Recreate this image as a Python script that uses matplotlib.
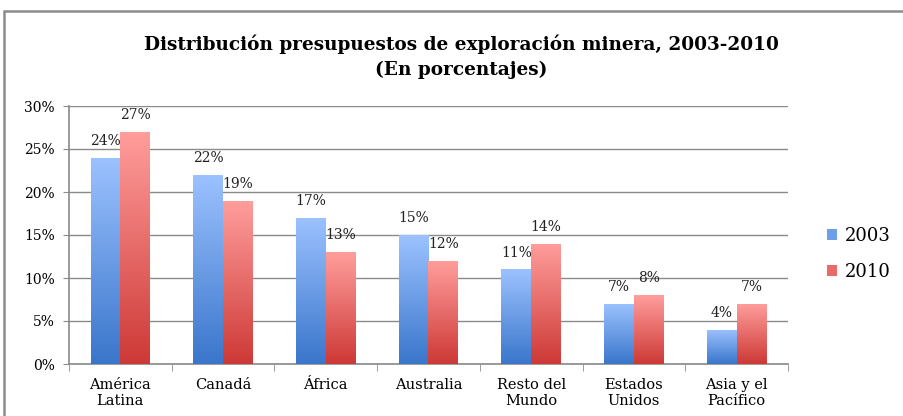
import numpy as np
import matplotlib
matplotlib.use("Agg")
import matplotlib.pyplot as plt
from matplotlib.patches import Rectangle, Patch
from matplotlib.colors import LinearSegmentedColormap

plt.rcParams["font.family"] = ["DejaVu Serif"]

# data
categories = ["América\nLatina", "Canadá", "África", "Australia",
              "Resto del\nMundo", "Estados\nUnidos", "Asia y el\nPacífico"]
pct_2003 = [24, 22, 17, 15, 11, 7, 4]
pct_2010 = [27, 19, 13, 12, 14, 8, 7]
series_labels = ["2003", "2010"]
y_ticks = [0, 5, 10, 15, 20, 25, 30]

# gradients: light at top, dark at bottom
blue_cmap = LinearSegmentedColormap.from_list("b", ["#3a76cb", "#9cc2ff"])
red_cmap = LinearSegmentedColormap.from_list("r", ["#cd3936", "#ff9e9c"])

fig = plt.figure(figsize=(9.04, 4.16), dpi=100)
ax = fig.add_axes([69 / 904, 1 - 364 / 416, (788 - 69) / 904, (364 - 106) / 416])

# outer frame of the chart
fig.patches.append(Rectangle((4 / 904, -0.05), 1.0, 1 - 11 / 416 + 0.05,
                             transform=fig.transFigure, fill=False,
                             edgecolor="#8c8c8c", linewidth=1.8))

x = np.arange(len(categories))
w = 0.29
grad = np.linspace(0, 1, 256).reshape(-1, 1)

for vals, off, cmap in [(pct_2003, -w / 2, blue_cmap), (pct_2010, w / 2, red_cmap)]:
    bars = ax.bar(x + off, vals, width=w, color="none", edgecolor="none", zorder=3)
    for b, v in zip(bars, vals):
        x0, y0 = b.get_x(), b.get_y()
        im = ax.imshow(grad, cmap=cmap, origin="lower", aspect="auto",
                       extent=(x0, x0 + b.get_width(), y0, y0 + b.get_height()),
                       zorder=3)
        im.set_clip_path(b)
        ax.annotate(f"{v}%", (x0 + b.get_width() / 2, v), xytext=(0, 7),
                    textcoords="offset points", ha="center", va="bottom",
                    fontsize=10, color="#222222", zorder=4)

ax.set_xlim(-0.5, len(categories) - 0.5)
ax.set_ylim(0, 30)
ax.set_yticks(y_ticks)
ax.set_yticklabels([f"{t}%" for t in y_ticks], fontsize=10)
ax.yaxis.grid(True, color="#8a8a8a", linewidth=1.0, zorder=0)
ax.set_axisbelow(True)

ax.set_xticks(x)
ax.set_xticklabels(categories, fontsize=10.5, linespacing=1.15)
ax.tick_params(axis="x", length=0, pad=10)
ax.set_xticks(np.arange(len(categories) + 1) - 0.5, minor=True)
ax.tick_params(axis="x", which="minor", length=5, color="#8a8a8a")
ax.tick_params(axis="y", length=4, color="#8a8a8a", pad=6)

for s in ["top", "right"]:
    ax.spines[s].set_visible(False)
for s in ["left", "bottom"]:
    ax.spines[s].set_color("#8a8a8a")
    ax.spines[s].set_linewidth(1.2)

fig.text(461 / 904, 1 - 44 / 416, "Distribución presupuestos de exploración minera, 2003-2010",
         ha="center", va="center", fontsize=13.3, fontweight="bold")
fig.text(461 / 904, 1 - 70 / 416, "(En porcentajes)",
         ha="center", va="center", fontsize=13.3, fontweight="bold")

handles = [Patch(facecolor="#6e9ee8", edgecolor="none"),
           Patch(facecolor="#e96a68", edgecolor="none")]
fig.legend(handles, series_labels, loc="center left",
           bbox_to_anchor=(811 / 904, 1 - 254 / 416), frameon=False,
           fontsize=13, handlelength=0.55, handleheight=0.55,
           handletextpad=0.45, labelspacing=1.0)

fig.savefig("out.png", dpi=100)
